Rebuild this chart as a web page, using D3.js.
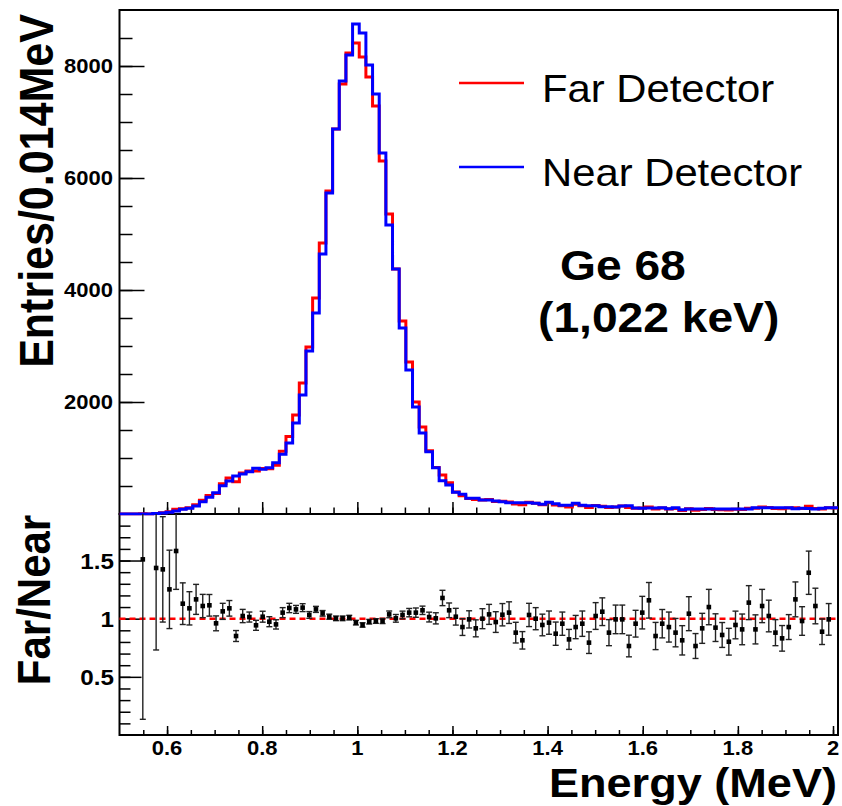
<!DOCTYPE html>
<html>
<head>
<meta charset="utf-8">
<script src="https://d3js.org/d3.v7.min.js"></script>
<style>
    body { margin: 0; background: #fff; }
    text { font-family: "Liberation Sans", Arial, Helvetica, sans-serif; fill: #000; }
</style>
</head>
<body>
<script>
    // Histogram binning (MeV)
    const binStart = 0.5;
    const binWidth = 0.014;

    // Entries per bin
    const nearCounts = [0, 0, 0, 2, 0, 7, 17, 30, 55, 84,
        101, 143, 220, 297, 381, 506, 589, 679, 714, 756,
        815, 797, 827, 917, 1066, 1268, 1625, 2125, 2911, 3589,
        4643, 5732, 6875, 7732, 8196, 8750, 8589, 8018, 7500, 6446,
        5161, 4375, 3321, 2571, 1911, 1446, 1113, 827, 595, 518,
        387, 351, 280, 280, 250, 250, 232, 220, 202, 202,
        202, 202, 190, 172, 208, 184, 155, 155, 190, 155,
        149, 149, 131, 131, 125, 143, 149, 107, 101, 107,
        107, 113, 95, 113, 77, 89, 89, 89, 89, 89,
        89, 89, 89, 89, 89, 113, 113, 113, 113, 113,
        113, 95, 101, 100, 89, 101, 113, 113];
    const farCounts = [0, 0, 0, 3, 1, 10, 24, 38, 87, 95,
        110, 167, 244, 331, 366, 538, 641, 578, 730, 767,
        769, 811, 806, 872, 1121, 1385, 1768, 2339, 2982, 3857,
        4839, 5768, 6875, 7679, 8232, 8411, 8161, 7804, 7286, 6304,
        5357, 4375, 3446, 2714, 2000, 1554, 1128, 830, 696, 559,
        394, 326, 278, 257, 250, 259, 225, 227, 213, 178,
        164, 208, 190, 163, 201, 160, 148, 127, 176, 148,
        118, 152, 139, 115, 124, 142, 114, 102, 106, 124,
        91, 108, 88, 99, 63, 93, 68, 82, 98, 82,
        77, 71, 84, 81, 101, 103, 125, 116, 99, 94,
        105, 111, 99, 140, 99, 90, 112, 105];

    // Far/Near ratio per bin and its error (null = no point)
    const ratioVals = [null, null, null, 1.51, null, 1.436, 1.424, 1.252, 1.582, 1.129,
        1.089, 1.166, 1.109, 1.115, 0.96, 1.063, 1.089, 0.851, 1.023, 1.014,
        0.943, 1.017, 0.974, 0.951, 1.052, 1.092, 1.08, 1.095, 1.032, 1.08,
        1.046, 1.017, 1.003, 1.003, 1.009, 0.966, 0.946, 0.974, 0.98, 0.98,
        1.037, 1.003, 1.032, 1.052, 1.052, 1.072, 1.014, 1.003, 1.178, 1.072,
        1.017, 0.928, 0.994, 0.917, 1.0, 1.037, 0.971, 1.034, 1.052, 0.88,
        0.814, 1.032, 1.0, 0.946, 0.966, 0.871, 0.957, 0.822, 0.928, 0.957,
        0.794, 1.023, 1.06, 0.88, 0.994, 0.994, 0.765, 0.957, 1.052, 1.158,
        0.851, 0.957, 0.928, 0.88, 0.814, 1.043, 0.765, 0.917, 1.1, 0.923,
        0.86, 0.802, 0.946, 0.908, 1.138, 0.908, 1.109, 1.023, 0.88, 0.831,
        0.928, 1.166, 0.98, 1.395, 1.109, 0.888, 0.994, null];
    const ratioErrs = [null, null, null, 1.375, null, 0.705, 0.453, 0.337, 0.33, 0.179,
        0.143, 0.129, 0.1, 0.093, 0.064, 0.069, 0.067, 0.047, 0.057, 0.043,
        0.043, 0.047, 0.043, 0.04, 0.043, 0.04, 0.034, 0.034, 0.029, 0.026,
        0.024, 0.022, 0.02, 0.02, 0.02, 0.02, 0.019, 0.02, 0.02, 0.022,
        0.029, 0.033, 0.033, 0.036, 0.04, 0.036, 0.042, 0.048, 0.066, 0.063,
        0.072, 0.072, 0.074, 0.073, 0.086, 0.086, 0.089, 0.096, 0.093, 0.089,
        0.075, 0.1, 0.095, 0.093, 0.1, 0.1, 0.1, 0.086, 0.1, 0.109,
        0.093, 0.115, 0.119, 0.112, 0.123, 0.123, 0.093, 0.115, 0.14, 0.153,
        0.117, 0.122, 0.129, 0.122, 0.126, 0.146, 0.107, 0.129, 0.152, 0.119,
        0.107, 0.115, 0.119, 0.132, 0.146, 0.125, 0.143, 0.136, 0.112, 0.11,
        0.107, 0.15, 0.123, 0.186, 0.153, 0.11, 0.136, null];

    const countTicks = [2000, 4000, 6000, 8000];
    const ratioTicks = [0.5, 1, 1.5];
    const energyTicks = [0.6, 0.8, 1, 1.2, 1.4, 1.6, 1.8, 2];
    const legendItems = [
        { label: "Far Detector", color: "#ff0000" },
        { label: "Near Detector", color: "#0000ff" }
    ];

    var width = 842;
    var height = 806;
    var frame = { left: 119.5, right: 838, top: 10, mid: 514, bottom: 735 };
    const stretch = 1.1;   // text in the original is drawn slightly wide

    const svg = d3.select("body").append("svg")
        .attr("width", width)
        .attr("height", height);

    const x = d3.scaleLinear().domain([0.5, 2.0105]).range([frame.left, frame.right]);
    const yTop = d3.scaleLinear().domain([0, 9000]).range([frame.mid, frame.top]);
    const yBot = d3.scaleLinear().domain([0, 1.9]).range([frame.bottom, frame.mid]);

    function addText(txt, px, py, size, anchor, bold, rotate) {
        svg.append("text")
            .attr("transform", `translate(${px},${py}) scale(${stretch},1)` + (rotate ? " rotate(-90)" : ""))
            .attr("text-anchor", anchor)
            .style("font-size", size + "px")
            .style("font-weight", bold ? "bold" : "normal")
            .text(txt);
    }

    function ticks(axis, tx, ty) {
        const g = svg.append("g")
            .attr("transform", `translate(${tx},${ty})`)
            .call(axis.tickFormat(""));
        g.select(".domain").remove();
        g.selectAll("line").attr("stroke", "#000").attr("stroke-width", 1.5);
    }

    const minorE = d3.range(11, 41).map(k => k * 0.05);
    const majorE = energyTicks;

    // ---- top pad: ticks
    ticks(d3.axisRight(yTop).tickValues(d3.range(1, 18).map(k => k * 500)).tickSize(13), frame.left, 0);
    ticks(d3.axisRight(yTop).tickValues(countTicks).tickSize(25), frame.left, 0);
    ticks(d3.axisTop(x).tickValues(minorE).tickSize(6.5), 0, frame.mid);
    ticks(d3.axisTop(x).tickValues(majorE).tickSize(12), 0, frame.mid);

    // ---- bottom pad: ticks
    ticks(d3.axisRight(yBot).tickValues(d3.range(1, 19).map(k => k / 10)).tickSize(11), frame.left, 0);
    ticks(d3.axisRight(yBot).tickValues(ratioTicks).tickSize(22), frame.left, 0);
    ticks(d3.axisTop(x).tickValues(minorE).tickSize(5), 0, frame.bottom);
    ticks(d3.axisTop(x).tickValues(majorE).tickSize(9), 0, frame.bottom);

    // frames
    svg.append("rect")
        .attr("x", frame.left).attr("y", frame.top)
        .attr("width", frame.right - frame.left).attr("height", frame.mid - frame.top)
        .attr("fill", "none").attr("stroke", "#000").attr("stroke-width", 2);
    svg.append("rect")
        .attr("x", frame.left).attr("y", frame.mid)
        .attr("width", frame.right - frame.left).attr("height", frame.bottom - frame.mid)
        .attr("fill", "none").attr("stroke", "#000").attr("stroke-width", 2);

    // ---- histograms
    svg.append("clipPath").attr("id", "topclip")
        .append("rect")
        .attr("x", frame.left).attr("y", frame.top)
        .attr("width", frame.right - frame.left).attr("height", frame.mid - frame.top + 1.5);

    const step = d3.line()
        .x(d => x(d.e))
        .y(d => yTop(d.c))
        .curve(d3.curveStepAfter);

    function histPoints(counts) {
        const pts = counts.map((c, i) => ({ e: binStart + i * binWidth, c: c }));
        pts.push({ e: binStart + counts.length * binWidth, c: counts[counts.length - 1] });
        return pts;
    }

    [[farCounts, "#ff0000"], [nearCounts, "#0000ff"]].forEach(([counts, color]) => {
        svg.append("path")
            .datum(histPoints(counts))
            .attr("clip-path", "url(#topclip)")
            .attr("fill", "none")
            .attr("stroke", color)
            .attr("stroke-width", 3)
            .attr("d", step);
    });

    // ---- ratio points
    const ratioData = ratioVals
        .map((v, i) => ({ e: binStart + (i + 0.5) * binWidth, v: v, err: ratioErrs[i] }))
        .filter(d => d.v !== null);

    svg.append("line")
        .attr("x1", frame.left).attr("x2", frame.right)
        .attr("y1", yBot(1)).attr("y2", yBot(1))
        .attr("stroke", "#ff0000").attr("stroke-width", 2.5)
        .attr("stroke-dasharray", "6,4");

    const yMax = yBot.domain()[1];
    const pts = svg.append("g").attr("class", "ratio")
        .selectAll("g")
        .data(ratioData)
        .join("g")
        .attr("transform", d => `translate(${x(d.e)},0)`);

    pts.append("line")
        .attr("y1", d => yBot(Math.min(d.v + d.err, yMax)))
        .attr("y2", d => yBot(Math.max(d.v - d.err, 0)))
        .attr("stroke", "#222").attr("stroke-width", 1.4);
    pts.filter(d => d.v + d.err < yMax).append("line")
        .attr("x1", -3).attr("x2", 3)
        .attr("y1", d => yBot(d.v + d.err)).attr("y2", d => yBot(d.v + d.err))
        .attr("stroke", "#222").attr("stroke-width", 1.4);
    pts.append("line")
        .attr("x1", -3).attr("x2", 3)
        .attr("y1", d => yBot(d.v - d.err)).attr("y2", d => yBot(d.v - d.err))
        .attr("stroke", "#222").attr("stroke-width", 1.4);
    pts.append("rect")
        .attr("x", -2.3).attr("width", 4.6)
        .attr("y", d => yBot(d.v) - 2.3).attr("height", 4.6)
        .attr("fill", "#000");

    // ---- labels
    countTicks.forEach(v => addText(String(v), 113, yTop(v) + 7, 20, "end", true));
    ratioTicks.forEach(v => addText(String(v), 114, yBot(v) + 8, 22, "end", true));
    energyTicks.forEach(v => addText(String(v), x(v), 755, 20, "middle", true));

    addText("Entries/0.014MeV", 53, 191, 43, "middle", true, true);
    addText("Far/Near", 50, 600, 42, "middle", true, true);
    addText("Energy (MeV)", 837, 797, 41, "end", true);

    legendItems.forEach((d, i) => {
        const ly = 83 + i * 84;
        svg.append("line")
            .attr("x1", 459).attr("x2", 524)
            .attr("y1", ly).attr("y2", ly)
            .attr("stroke", d.color).attr("stroke-width", 2.5);
        addText(d.label, 542, ly + 19, 38, "start", false);
    });

    addText("Ge 68", 560, 280, 42, "start", true);
    addText("(1,022 keV)", 538, 332, 42, "start", true);
</script>
</body>
</html>
